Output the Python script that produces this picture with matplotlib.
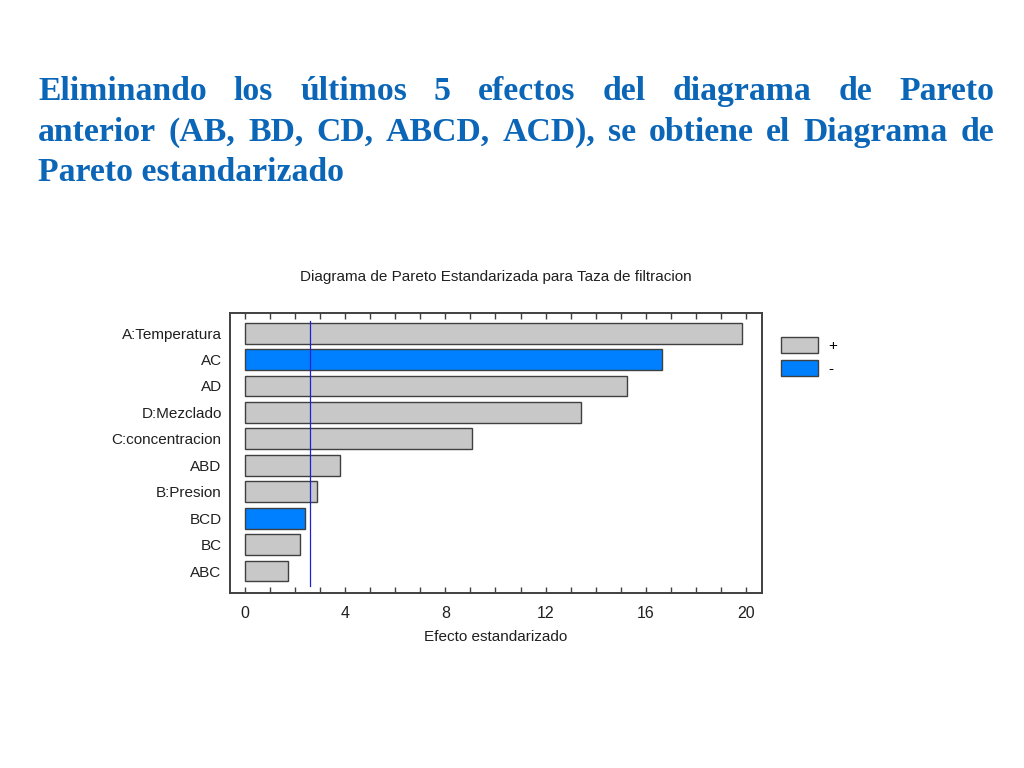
import numpy as np
import matplotlib.pyplot as plt
from matplotlib.patches import Patch

# datos del diagrama de Pareto
efectos = ['A:Temperatura', 'AC', 'AD', 'D:Mezclado', 'C:concentracion',
           'ABD', 'B:Presion', 'BCD', 'BC', 'ABC']
valores = [19.84, 16.63, 15.26, 13.40, 9.08, 3.80, 2.87, 2.40, 2.20, 1.75]
signos = ['+', '-', '+', '+', '+', '+', '+', '-', '+', '+']
limite = 2.59
xticks = [0, 4, 8, 12, 16, 20]

linea1 = "Eliminando los últimos 5 efectos del diagrama de Pareto"
linea2 = "anterior (AB, BD, CD, ABCD, ACD), se obtiene  el Diagrama de"
linea3 = "Pareto estandarizado"

fuente = 'Liberation Sans'
tam = 11

gris = '#c8c8c8'
azul = '#0080ff'
azul_texto = '#0b66b8'

fig = plt.figure(figsize=(10.24, 7.68), dpi=100)
fig.patch.set_facecolor('white')

#--------------------------------------------------texto justificado
renderer = fig.canvas.get_renderer()
x0, x1 = 38/1024, 994/1024
estilo = dict(fontsize=24.3, fontweight='bold', family='Liberation Serif', color=azul_texto, va='baseline')

def justificar(texto, y):
	palabras = texto.split()
	objs = [fig.text(0, y, p, **estilo) for p in palabras]
	anchos = [o.get_window_extent(renderer).width / fig.bbox.width for o in objs]
	hueco = (x1 - x0 - sum(anchos)) / (len(palabras) - 1)
	x = x0
	for o, w in zip(objs, anchos):
		o.set_x(x)
		x += w + hueco

justificar(linea1, 1 - 100/768)
justificar(linea2, 1 - 141/768)
fig.text(x0, 1 - 181/768, linea3, **estilo)

#--------------------------------------------------grafico de barras
ax = fig.add_axes([230/1024, 1 - 593/768, 532/1024, 280/768])
y = np.arange(len(efectos))
colores = [gris if s == '+' else azul for s in signos]
ax.barh(y, valores, height=0.79, color=colores, edgecolor='#404040', linewidth=1.0, zorder=2)
ax.plot([limite, limite], [-0.47, 9.55], color='#2020d0', lw=0.9, zorder=3)

ax.set_xlim(-0.58, 20.62)
ax.set_ylim(9.83, -0.76)
ax.set_yticks(y)
ax.set_yticklabels(efectos, family=fuente, fontsize=tam, color='#202020')
ax.set_xticks(xticks)
ax.set_xticklabels([str(t) for t in xticks], family=fuente, fontsize=tam + 0.5, color='#202020')
ax.set_xticks(np.arange(0, 21, 1), minor=True)
ax.tick_params(axis='x', which='both', direction='in', top=True, bottom=True, length=4, width=1, color='#404040', pad=9)
ax.tick_params(axis='y', length=0, pad=6)
for s in ax.spines.values():
	s.set_color('#404040')
	s.set_linewidth(1.4)

ax.set_xlabel('Efecto estandarizado', family=fuente, fontsize=tam, color='#202020', labelpad=7)
ax.set_title('Diagrama de Pareto Estandarizada para Taza de filtracion', family=fuente, fontsize=tam, color='#202020', pad=23)

#leyenda
manejadores = [Patch(facecolor=gris, edgecolor='#404040', label='+'),
               Patch(facecolor=azul, edgecolor='#404040', label='-')]
ax.legend(handles=manejadores, loc='upper left', bbox_to_anchor=(1.01, 0.965), frameon=False,
          handlelength=2.4, handleheight=1.25, handletextpad=0.7, labelspacing=0.45,
          prop={'family': fuente, 'size': tam})

fig.savefig('out.png', dpi=100, facecolor='white')
